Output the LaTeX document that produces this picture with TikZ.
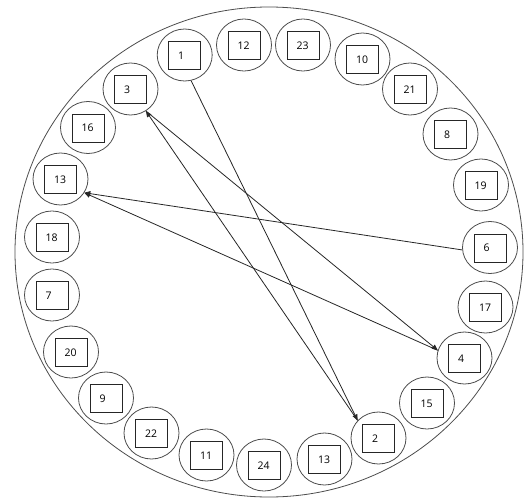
\documentclass[tikz,border=0pt]{standalone}
\usepackage{fontspec}
\setmainfont{Open Sans}
\usetikzlibrary{shapes.geometric,arrows.meta}
\tikzset{
  ring/.style={draw=black!70, ellipse, minimum width=55pt, minimum height=52pt, inner sep=0pt, line width=0.8pt},
  box/.style={draw=black!85, rectangle, text width=13pt, inner xsep=9.5pt, inner ysep=0pt, minimum height=28pt, align=left, line width=0.8pt, font=\fontsize{10.5}{12}\selectfont},
  arr/.style={draw=black!85, line width=0.8pt, -{Triangle[length=6pt,width=5pt]}},
  outer/.style={draw=black!70, line width=0.8pt}
}
\begin{document}
\begin{tikzpicture}[x=1pt,y=-1pt]
\useasboundingbox (0,0) rectangle (532,500);
\draw[outer] (269,252) ellipse [x radius=254, y radius=245];
\foreach \nm/\lab/\px/\py in {
  n1/1/184.7/55, n12/12/244/45, n23/23/303/45, n10/10/362.5/59,
  n21/21/410/89, n8/8/450.5/134, n19/19/481/185, n6/6/490/247.5,
  n17/17/485.5/307, n4/4/464.5/358, n15/15/427/403, n2/2/378.5/438,
  n13b/13/324.5/459, n24/24/264/465, n11/11/206.5/455, n22/22/151.5/433,
  n9/9/106/398, n20/20/71/352, n7/7/52/295, n18/18/52/237,
  n13a/13/60.5/179, n16/16/88/127.5, n3/3/130.5/89}{
  \node[ring] (\nm) at (\px,\py) {};
  \node[box] (b\nm) at (\px,\py+0.5) {\lab};
}
\draw[arr] (n1.284) -- (n2.140);
\draw[arr] (n2.140) -- (n3.305);
\draw[arr] (n3.305) -- (n4.164);
\draw[arr] (n4.164) -- (n13a.330);
\draw[arr] (n6.185) -- (n13a.330);
\end{tikzpicture}
\end{document}
